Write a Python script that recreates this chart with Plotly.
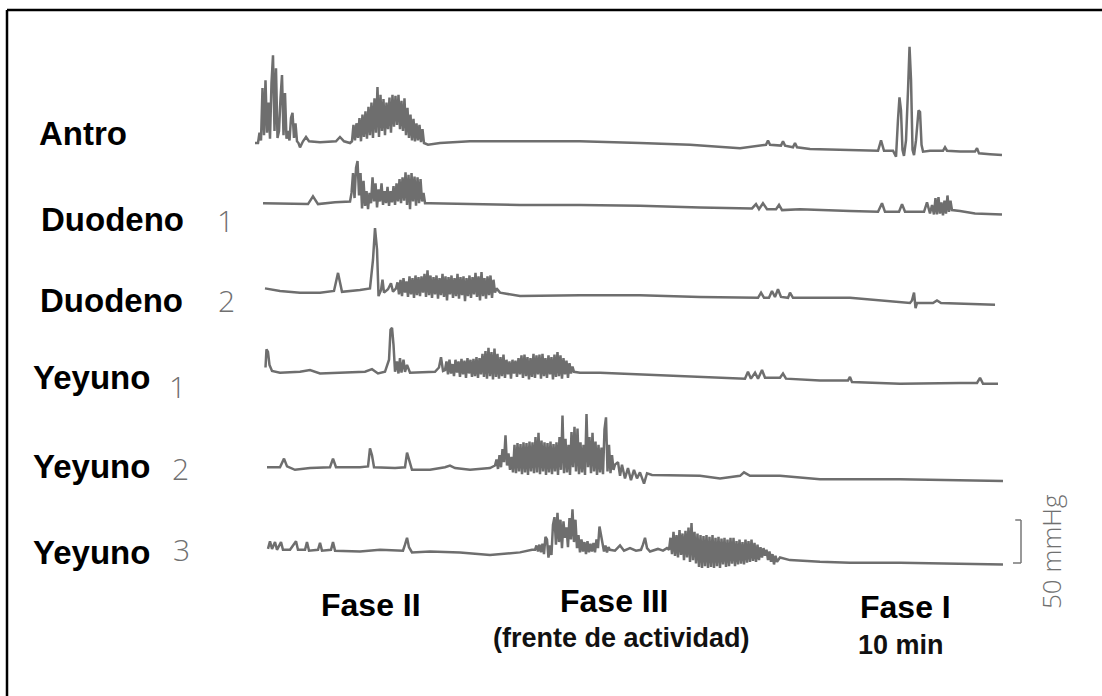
import plotly.graph_objects as go

# ---------------- data (time in min, pressure in mmHg) ----------------
DT = 0.2  # sampling interval of the dense burst recordings (min)

channels = ["Antro", "Duodeno", "Duodeno", "Yeyuno", "Yeyuno", "Yeyuno"]
channel_nums = ["", "1", "2", "1", "2", "3"]
channel_offsets = [643, 573, 472, 377, 266, 170]  # vertical stacking (mmHg)

# Antro
antro_t = [-0.4, 5.6, 6.0, 6.4, 6.8, 8.27, 10.4, 10.93, 11.47, 12.27,
           22.67, 24.27, 28.27, 34.93, 42.93, 50.93, 57.6, 64.27, 66.67, 67.73, 68.0, 68.27,
           69.73, 70.0, 70.27, 71.33, 71.6, 71.87, 73.6, 78.93, 82.67, 83.07, 83.47, 84.67,
           85.07, 85.33, 85.53, 85.73, 85.93, 86.13, 86.4, 86.67, 86.87, 87.07, 87.27, 87.47,
           87.73, 88.07, 88.27, 88.47, 88.67, 89.6, 91.33, 91.6, 91.87, 93.6, 95.6, 95.87,
           96.13, 97.6, 99.2]
antro_p = [0, -5, 2, 7, 2, 1, 2, 7, 2, 0,
           -2, 0, 2, 2, 2, 0, -2, -6, -3, -2, 3, -2,
           -3, 2, -3, -5, 0, -5, -7, -8, -9, 3, -9, -9,
           -16, 27, 53, 38, -8, -15, 3, 62, 112, 73, -8, -14,
           3, 38, 36, -2, -10, -9, -9, -5, -9, -10, -10, -6,
           -12, -13, -14]
antro_b1_start = 0.0
antro_b1 = [0, 12, 3, 64, 9, 73, 12, 47, 5, 70, 102, 14, 87, 6, 14, 52, 79, 9, 58, 5,
            14, 3, 29, 35, 6, 23, 2, 0]
antro_b2_start = 12.53
antro_b2 = [2, 21, 3, 23, 6, 29, 2, 33, 7, 37, 5, 42, 9, 47, 6, 52, 12, 65, 7, 56, 14, 51,
            9, 47, 16, 53, 12, 56, 19, 55, 21, 56, 16, 49, 14, 52, 9, 41, 6, 33, 3, 28, 2,
            23, 3, 21, 1, 16, 0]

# Duodeno 1
duo1_t = [0.67, 4.27, 6.67, 7.33, 8.0, 10.27, 12.0,
          22.93, 29.6, 34.93, 42.93, 50.93, 58.93, 65.87, 66.4, 66.8, 67.33, 67.87,
          69.07, 69.47, 69.87, 72.27, 78.93, 82.67, 83.2, 83.6, 85.47, 85.87, 86.27,
          88.8, 89.2, 89.6, 89.87, 90.13, 90.33, 90.53, 90.73, 90.93, 91.13, 91.33,
          91.53, 91.73, 91.93, 92.13, 92.33, 92.53, 93.6, 95.6, 99.2]
duo1_p = [0, -1, -1, 8, -1, 1, 2,
          0, -1, -2, -2, -3, -5, -6, -1, -7, 0, -7,
          -7, -2, -8, -7, -9, -10, 0, -10, -10, -1, -10,
          -10, 1, -12, -2, -13, 6, -13, 7, -12, 1, -14,
          3, -12, 9, -10, 3, -8, -9, -12, -13]
duo1_b1_start = 12.27
duo1_b1 = [2, 12, 35, 6, 41, 49, 9, 35, -6, 26, -3, 14, -7, 12, 0, 30, 2, 23, -5, 16, 2,
           23, -2, 14, 0, 19, -3, 14, 1, 20, -2, 23, 2, 28, 0, 30, 3, 36, -2, 33, -7, 35,
           2, 31, -3, 30, 0, 28, 2, 12, 0]

# Duodeno 2
duo2_t = [0.93, 2.93, 5.6, 8.27, 10.13, 10.47, 10.67, 10.93, 11.2, 13.6, 14.93, 15.33,
          15.6, 15.87, 16.07, 16.4, 16.6, 16.8, 17.33, 17.73, 18.0,
          32.27, 34.93, 42.93, 50.93, 58.93, 66.67, 67.07, 67.47, 68.13, 68.53, 68.93,
          69.33, 69.73, 70.67, 70.93, 71.33, 78.93, 82.67, 86.93, 87.2, 87.47, 87.67,
          87.87, 90.0, 90.53, 91.07, 93.6, 98.27]
duo2_p = [2, -1, -3, -3, -1, 12, 20, 9, -2, 0, 2, 35,
          72, 47, -7, 0, 12, -3, 1, 8, -2,
          -3, -7, -6, -6, -8, -9, -3, -9, -9, -1, -8,
          1, -8, -9, -3, -9, -9, -12, -15, -12, -3, -21,
          -15, -15, -12, -15, -16, -17]
duo2_b1_start = 18.4
duo2_b1 = [2, 9, -5, 12, -7, 14, -3, 10, -8, 16, -5, 14, -9, 17, -6, 15, -7, 16, -3, 19,
           -8, 23, -6, 17, -9, 15, -5, 17, -10, 14, -6, 19, -8, 16, -12, 15, -5, 17, -9,
           14, -7, 19, -10, 15, -6, 16, -13, 14, -7, 17, -9, 15, -5, 20, -8, 16, -12, 21,
           -7, 14, -10, 16, -6, 17, -9, 12, -3, 2]

# Yeyuno 1
yey1_t = [1.0, 1.13, 1.33, 1.53, 1.87, 2.93, 5.6, 6.93, 8.27, 10.93, 14.27, 15.2, 16.0,
          16.93, 17.47, 17.67, 17.87, 18.07, 18.27, 18.53, 18.73, 18.93, 19.13, 19.4,
          19.6, 19.87, 20.27, 23.6, 24.13, 24.4, 24.67,
          42.93, 45.6, 50.93, 58.93, 64.93, 65.33, 65.73, 66.27, 66.67, 67.2, 67.6,
          69.6, 70.0, 70.4, 74.93, 78.67, 78.93, 79.2, 85.6, 93.6, 95.87, 96.27, 96.67,
          98.67]
yey1_p = [5, 26, 23, 8, 1, -1, 0, 2, -2, -1, 0, 3, -2,
          0, 14, 49, 51, 31, 0, 12, -2, 16, -1, 14,
          0, 8, -1, 0, 5, 17, 1,
          -1, -1, -3, -6, -8, 0, -8, -1, -8, 2, -7,
          -7, -2, -8, -10, -10, -6, -12, -14, -13, -13, -7, -14,
          -14]
yey1_b1_start = 24.93
yey1_b1 = [2, 12, -3, 14, -2, 9, -5, 14, -1, 12, -6, 15, -3, 13, -7, 16, -2, 14, -6, 15,
           -5, 17, -7, 16, -3, 21, -6, 24, -8, 28, -5, 23, -9, 27, -6, 21, -8, 17, -5, 20,
           -7, 14, -3, 12, -8, 14, -2, 13, -6, 16, -3, 19, -7, 20, -5, 17, -9, 16, -6, 21,
           -7, 19, -3, 20, -8, 21, -5, 16, -7, 19, -3, 17, -9, 20, -6, 23, -5, 19, -8, 16,
           -3, 13, -7, 10, -2, 6, 0]

# Yeyuno 2
yey2_t = [1.2, 2.93, 3.47, 3.87, 4.93, 6.93, 9.6, 10.0, 10.4, 13.6, 14.67, 14.93, 15.2,
          15.47, 18.27, 19.6, 19.87, 20.13, 20.53, 22.93, 24.93, 25.6, 26.27, 28.27, 30.93,
          48.0, 48.27, 48.53, 48.93, 49.33, 49.73, 50.13, 50.53, 50.93, 51.47, 51.87,
          52.53, 58.93, 61.6, 64.27, 64.8, 65.6, 69.6, 74.93, 85.6, 99.33]
yey2_p = [0, 0, 10, 1, -3, -1, 0, 10, 0, 0, 1, 22, 14,
          0, -1, 0, 17, 8, -3, -3, 0, 2, -1, -3, -1,
          6, -10, 3, -13, -1, -15, -3, -13, -6, -19, -7,
          -9, -10, -13, -10, -6, -10, -10, -14, -14, -16]
yey2_b1_start = 31.6
yey2_b1 = [2, 9, -2, 14, 0, 21, 6, 37, 2, 16, -3, 12, -6, 26, -7, 28, -5, 27, -8, 29, -6,
           28, -9, 30, -5, 29, -7, 35, -6, 40, -8, 31, -5, 29, -9, 28, -6, 30, -8, 27, -5,
           29, -9, 35, -3, 60, -7, 33, -6, 26, -9, 41, 0, 47, -5, 45, -8, 29, -6, 26, -9,
           62, 0, 35, -7, 40, -5, 30, -9, 26, -6, 23, -8, 44, 58, -5, 26, -7, 14, -3, 3]

# Yeyuno 3
yey3_t = [1.33, 1.6, 1.87, 2.27, 2.53, 3.07, 3.33, 4.27, 5.07, 5.33, 6.27, 6.53, 6.8, 8.0,
          8.27, 8.53, 9.73, 10.0, 10.27, 13.6, 16.27, 19.33, 19.6, 19.87, 20.13, 20.53,
          22.93, 26.93, 30.93, 34.93, 36.53,
          47.6, 48.27, 48.8, 49.6, 50.4, 51.07, 51.33, 51.6, 51.87, 52.27, 53.33, 54.0,
          54.53,
          69.6, 70.93, 74.93, 78.93, 85.6, 92.27, 99.33]
yey3_p = [1, 10, 1, 9, 0, 9, 0, 0, 10, 0, 0, 9, -1, 0,
          8, -1, 0, 9, -1, -2, 0, -1, 6, 14, 3, -3,
          -2, -3, -6, -3, 0,
          -1, 5, -1, 2, -1, 0, 6, 14, 2, -2, 1, -1,
          2,
          -9, -12, -14, -15, -15, -16, -17]
yey3_b1_start = 36.93
yey3_b1 = [0, 5, -2, 6, -3, 7, -5, 15, 12, -9, 5, -6, 29, 38, 6, 43, 9, 35, 2, 33, 14, 26,
           3, 37, 12, 47, 9, 35, 2, 17, -3, 12, -2, 9, -5, 10, -3, 7, -2, 8, -3, 12, 2, 27,
           17, 6, -2, 5, -3, 3, 0]
yey3_b2_start = 54.8
yey3_b2 = [0, 14, -5, 21, -7, 17, -9, 23, -6, 19, -12, 22, -9, 26, -14, 31, -12, 21, -16,
           19, -20, 17, -21, 16, -19, 17, -21, 15, -20, 17, -21, 14, -19, 15, -21, 13, -17,
           14, -20, 12, -19, 14, -16, 14, -19, 10, -17, 12, -16, 9, -17, 12, -15, 10, -14,
           12, -13, 8, -14, 6, -12, 3, -9, 2, -7, 0, -12, -2, -14, -5, -17, -7, -14]

phase_labels = ["Fase II", "Fase III", "Fase I"]
scale_bar_mmhg = 50

# ---------------- layout constants ----------------
W, H = 1102, 696
PX_PER_MIN = 7.5
T0_PX = 258
PX_PER_MMHG = 0.86
TRACE_COLOR = "#6e6e6e"


def build(ts, ps, bursts):
    pts = list(zip(ts, ps))
    for start, vals in bursts:
        pts += [(start + i * DT, v) for i, v in enumerate(vals)]
    pts.sort()
    return [a for a, _ in pts], [b for _, b in pts]


series = [
    build(antro_t, antro_p, [(antro_b1_start, antro_b1), (antro_b2_start, antro_b2)]),
    build(duo1_t, duo1_p, [(duo1_b1_start, duo1_b1)]),
    build(duo2_t, duo2_p, [(duo2_b1_start, duo2_b1)]),
    build(yey1_t, yey1_p, [(yey1_b1_start, yey1_b1)]),
    build(yey2_t, yey2_p, [(yey2_b1_start, yey2_b1)]),
    build(yey3_t, yey3_p, [(yey3_b1_start, yey3_b1), (yey3_b2_start, yey3_b2)]),
]

fig = go.Figure()
for (t, p), off, name, num in zip(series, channel_offsets, channels, channel_nums):
    fig.add_trace(go.Scatter(
        x=t, y=[off + v for v in p], mode="lines",
        line=dict(color=TRACE_COLOR, width=2.5),
        name=f"{name} {num}".strip(), showlegend=False, hoverinfo="skip"))


def px_x(x):
    return x / W


def px_y(y):
    return 1 - y / H


ann = []
# channel labels
label_pos = [(37, 134), (39, 219), (38, 300), (31, 377), (31, 466), (31, 552)]
num_pos = [None, (225, 220), (226, 300), (177, 386), (180, 468), (181, 549)]
for name, num, lp, npos in zip(channels, channel_nums, label_pos, num_pos):
    ann.append(dict(text=f"<b>{name}</b>", x=px_x(lp[0]), y=px_y(lp[1]),
                    xanchor="left", yanchor="middle",
                    font=dict(family="Liberation Sans", size=33, color="#000000")))
    if num:
        ann.append(dict(text=num, x=px_x(npos[0]), y=px_y(npos[1]),
                        xanchor="center", yanchor="middle",
                        font=dict(family="Open Sans", size=30, color="#707070", weight=300)))

# phase labels
phase_pos = [(371, 605), (614, 601), (905, 607)]
for lab, pp in zip(phase_labels, phase_pos):
    ann.append(dict(text=f"<b>{lab}</b>", x=px_x(pp[0]), y=px_y(pp[1]),
                    xanchor="center", yanchor="middle",
                    font=dict(family="Liberation Sans", size=32, color="#000000")))
ann.append(dict(text="<b>(frente de actividad)</b>", x=px_x(622), y=px_y(638),
                xanchor="center", yanchor="middle",
                font=dict(family="Liberation Sans", size=27, color="#111111")))
ann.append(dict(text="<b>10 min</b>", x=px_x(901), y=px_y(645),
                xanchor="center", yanchor="middle",
                font=dict(family="Liberation Sans", size=27, color="#111111")))
ann.append(dict(text=f"{scale_bar_mmhg} mmHg", x=px_x(1051), y=px_y(552),
                xanchor="center", yanchor="middle", textangle=-90,
                font=dict(family="Open Sans", size=26, color="#707070", weight=300)))
for a in ann:
    a.update(xref="paper", yref="paper", showarrow=False)

# scale bar (50 mmHg) in data units
sb_base = (H - 563) / PX_PER_MMHG
sb_x = (1021 - T0_PX) / PX_PER_MIN
sb_x0 = (1013 - T0_PX) / PX_PER_MIN
shapes = [
    dict(type="line", xref="x", yref="y", x0=sb_x, x1=sb_x, y0=sb_base,
         y1=sb_base + scale_bar_mmhg, line=dict(color="#777777", width=1.5)),
    dict(type="line", xref="x", yref="y", x0=sb_x0, x1=sb_x, y0=sb_base,
         y1=sb_base, line=dict(color="#777777", width=1.5)),
    dict(type="line", xref="x", yref="y", x0=sb_x0 + 0.3, x1=sb_x, y0=sb_base + scale_bar_mmhg,
         y1=sb_base + scale_bar_mmhg, line=dict(color="#777777", width=1.5)),
    # frame
    dict(type="line", xref="paper", yref="paper", x0=px_x(7), x1=1.0, y0=px_y(10), y1=px_y(10),
         line=dict(color="#000000", width=2.5)),
    dict(type="line", xref="paper", yref="paper", x0=px_x(7), x1=px_x(7), y0=px_y(10), y1=0,
         line=dict(color="#000000", width=2.5)),
]

fig.update_layout(
    width=W, height=H, autosize=False,
    margin=dict(l=0, r=0, t=0, b=0),
    paper_bgcolor="white", plot_bgcolor="white",
    xaxis=dict(range=[-T0_PX / PX_PER_MIN, (W - T0_PX) / PX_PER_MIN], visible=False,
               fixedrange=True),
    yaxis=dict(range=[0, H / PX_PER_MMHG], visible=False, fixedrange=True),
    annotations=ann, shapes=shapes, showlegend=False,
)

fig.write_html("out.html")
